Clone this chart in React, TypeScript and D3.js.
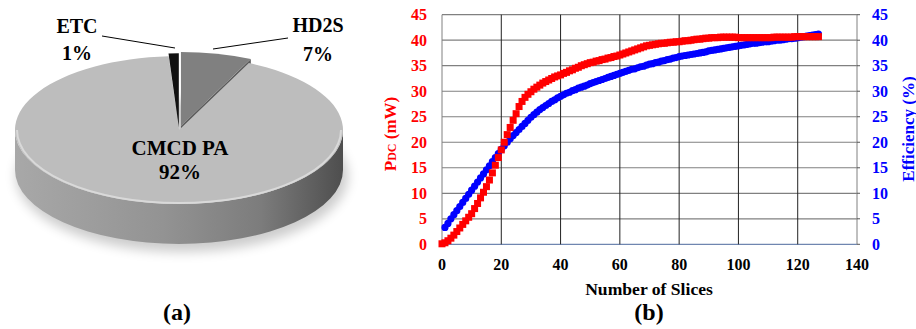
import React, { useEffect, useRef } from 'react';
import * as d3 from 'd3';

// pie (a): power breakdown
const pieLabels = ['HD2S', 'CMCD PA', 'ETC'];
const pieShares = [7, 92, 1];

// chart (b)
const xTicks = [0, 20, 40, 60, 80, 100, 120, 140];
const yTicks = [0, 5, 10, 15, 20, 25, 30, 35, 40, 45];

const pdcSlices = d3.range(0, 128);
const pdcValues = [
  0.1, 0.3, 0.7, 1.2, 1.8, 2.5, 3.2, 3.9, 4.6, 5.3,
  6.0, 7.0, 8.0, 9.1, 10.2, 11.3, 12.6, 14.0, 15.5, 17.0,
  18.5, 20.0, 21.5, 22.9, 24.3, 25.6, 27.0, 28.0, 28.8, 29.4,
  29.9, 30.4, 30.8, 31.2, 31.6, 31.9, 32.2, 32.5, 32.8, 33.0,
  33.2, 33.5, 33.7, 34.0, 34.2, 34.5, 34.7, 35.0, 35.2, 35.4,
  35.6, 35.7, 35.9, 36.0, 36.2, 36.3, 36.5, 36.6, 36.8, 36.9,
  37.1, 37.3, 37.5, 37.7, 37.9, 38.1, 38.3, 38.5, 38.7, 38.9,
  39.0, 39.1, 39.2, 39.3, 39.4, 39.4, 39.5, 39.6, 39.6, 39.7,
  39.7, 39.8, 39.9, 39.9, 40.0, 40.1, 40.2, 40.2, 40.3, 40.4,
  40.4, 40.5, 40.5, 40.5, 40.6, 40.6, 40.6, 40.6, 40.6, 40.6,
  40.5, 40.5, 40.5, 40.5, 40.5, 40.5, 40.5, 40.5, 40.5, 40.5,
  40.5, 40.5, 40.6, 40.6, 40.6, 40.6, 40.6, 40.6, 40.6, 40.7,
  40.7, 40.7, 40.7, 40.7, 40.7, 40.7, 40.7, 40.7,
];

const effSlices = d3.range(1, 128);
const effValues = [
  3.3, 4.1, 5.0, 5.8, 6.6, 7.4, 8.2, 9.0, 9.8,
  10.6, 11.4, 12.2, 13.0, 13.8, 14.6, 15.4, 16.2, 17.0, 17.8,
  18.6, 19.3, 20.0, 20.7, 21.3, 21.9, 22.5, 23.1, 23.7, 24.3,
  24.9, 25.4, 25.9, 26.4, 26.8, 27.2, 27.6, 28.0, 28.3, 28.7,
  29.0, 29.3, 29.6, 29.8, 30.1, 30.3, 30.6, 30.8, 31.0, 31.2,
  31.5, 31.7, 31.9, 32.1, 32.3, 32.5, 32.7, 32.9, 33.1, 33.3,
  33.5, 33.7, 33.9, 34.1, 34.3, 34.4, 34.6, 34.8, 34.9, 35.1,
  35.3, 35.4, 35.6, 35.7, 35.9, 36.0, 36.2, 36.3, 36.5, 36.6,
  36.8, 36.9, 37.0, 37.1, 37.2, 37.3, 37.4, 37.5, 37.6, 37.7,
  37.9, 38.0, 38.1, 38.2, 38.3, 38.4, 38.5, 38.6, 38.7, 38.8,
  38.9, 39.0, 39.1, 39.2, 39.3, 39.4, 39.4, 39.5, 39.6, 39.7,
  39.7, 39.8, 39.9, 40.0, 40.0, 40.1, 40.2, 40.3, 40.3, 40.4,
  40.5, 40.6, 40.7, 40.8, 40.9, 41.0, 41.1, 41.2,
];

const FONT = "'Liberation Serif', 'DejaVu Serif', serif";

export default function App() {
  const svgRef = useRef<SVGSVGElement>(null);

  useEffect(() => {
    const W = 916;
    const H = 329;
    const svg = d3
      .select(svgRef.current)
      .attr('width', W)
      .attr('height', H)
      .style('position', 'absolute')
      .style('left', 0)
      .style('top', 0)
      .style('background', '#fff');
    svg.selectAll('*').remove();

    const defs = svg.append('defs');
    const sideGrad = defs
      .append('linearGradient')
      .attr('id', 'pieSide')
      .attr('x1', 0)
      .attr('x2', 1)
      .attr('y1', 0)
      .attr('y2', 0);
    [
      [0, '#a8a8a8'],
      [0.45, '#939393'],
      [0.75, '#7c7c7c'],
      [1, '#4e4e4e'],
    ].forEach(([o, c]) => sideGrad.append('stop').attr('offset', o).attr('stop-color', c));
    defs
      .append('filter')
      .attr('id', 'blur')
      .attr('x', '-20%')
      .attr('y', '-40%')
      .attr('width', '140%')
      .attr('height', '180%')
      .append('feGaussianBlur')
      .attr('stdDeviation', 6);

    // ---------- (a) 3D pie ----------
    const cx = 179;
    const cy = 130;
    const rx = 164;
    const ry = 74;
    const depth = 40;
    const k = ry / rx;
    const d = depth / k;

    const pie = d3.pie<number>().sort(null).value((v) => v);
    const arcs = pie(pieShares);
    const arc = d3.arc<d3.PieArcDatum<number>>().innerRadius(0).outerRadius(rx);
    const explode = [9, 0, 6];
    const topColors = ['#808080', '#bdbdbd', '#111'];
    const offset = (a: d3.PieArcDatum<number>, e: number) => {
      const m = (a.startAngle + a.endAngle) / 2;
      return [Math.sin(m) * e, -Math.cos(m) * e];
    };

    // shadow
    svg
      .append('ellipse')
      .attr('cx', cx + 3)
      .attr('cy', cy + depth + 6)
      .attr('rx', rx + 2)
      .attr('ry', ry + 2)
      .attr('fill', '#000')
      .attr('opacity', 0.2)
      .attr('filter', 'url(#blur)');

    const g = svg.append('g').attr('transform', `translate(${cx},${cy}) scale(1,${k})`);

    // front side band
    g.append('path')
      .attr('d', `M${rx},0 A${rx},${rx} 0 0 1 ${-rx},0 L${-rx},${d} A${rx},${rx} 0 0 0 ${rx},${d} Z`)
      .attr('fill', 'url(#pieSide)');

    // cut face of the raised HD2S slice
    const hd = arcs[0];
    const [hx, hy] = offset(hd, explode[0]);
    const ex = hx + Math.sin(hd.endAngle) * rx;
    const ey = hy - Math.cos(hd.endAngle) * rx;
    g.append('path')
      .attr('d', `M${hx},${hy} L${ex},${ey} L${ex},${ey + d} L${hx},${hy + d} Z`)
      .attr('fill', '#5a5a5a');

    // top faces
    g.selectAll('path.slice')
      .data([arcs[1], arcs[0], arcs[2]])
      .join('path')
      .attr('class', 'slice')
      .attr('d', arc)
      .attr('transform', (a) => {
        const [ox, oy] = offset(a, explode[a.index]);
        return `translate(${ox},${oy})`;
      })
      .attr('fill', (a) => topColors[a.index]);

    // rim highlight
    g.append('path')
      .attr('d', `M${rx - 2},0 A${rx - 2},${rx - 2} 0 0 1 ${-rx + 2},0`)
      .attr('fill', 'none')
      .attr('stroke', '#d9d9d9')
      .attr('stroke-width', 2)
      .attr('vector-effect', 'non-scaling-stroke');

    const pieText = svg
      .append('g')
      .attr('font-family', FONT)
      .attr('font-weight', 'bold')
      .attr('font-size', 20)
      .attr('text-anchor', 'middle')
      .attr('fill', '#000');
    pieText.append('text').attr('x', 77).attr('y', 33).text(pieLabels[2]);
    pieText.append('text').attr('x', 77).attr('y', 60).text(`${pieShares[2]}%`);
    pieText.append('text').attr('x', 318).attr('y', 32).text(pieLabels[0]);
    pieText.append('text').attr('x', 318).attr('y', 61).text(`${pieShares[0]}%`);
    pieText.append('text').attr('x', 180).attr('y', 155).attr('font-size', 21).text(pieLabels[1]);
    pieText.append('text').attr('x', 180).attr('y', 179).attr('font-size', 21).text(`${pieShares[1]}%`);
    pieText.append('text').attr('x', 177).attr('y', 320).attr('font-size', 24).text('(a)');

    svg.append('line').attr('x1', 102).attr('y1', 36).attr('x2', 175).attr('y2', 48).attr('stroke', '#000');
    svg.append('line').attr('x1', 213).attr('y1', 49).attr('x2', 288).attr('y2', 38).attr('stroke', '#000');

    // ---------- (b) line chart ----------
    const x = d3.scaleLinear().domain([0, 140]).range([442, 857]);
    const y = d3.scaleLinear().domain([0, 45]).range([244.3, 14.7]);

    const grid = svg.append('g');
    grid
      .selectAll('line.h')
      .data(yTicks)
      .join('line')
      .attr('x1', x(0))
      .attr('x2', x(140))
      .attr('y1', (t) => y(t))
      .attr('y2', (t) => y(t))
      .attr('stroke', (t) => (t === 0 ? '#6f86b0' : '#808080'))
      .attr('stroke-width', 1.2);
    grid
      .selectAll('line.v')
      .data(xTicks)
      .join('line')
      .attr('y1', y(0))
      .attr('y2', y(45))
      .attr('x1', (t) => x(t))
      .attr('x2', (t) => x(t))
      .attr('stroke', (t) => (t === 0 || t === 140 ? '#808080' : '#222'))
      .attr('stroke-width', 1);
    grid
      .selectAll('line.rt')
      .data(yTicks)
      .join('line')
      .attr('x1', x(140))
      .attr('x2', x(140) + 3)
      .attr('y1', (t) => y(t))
      .attr('y2', (t) => y(t))
      .attr('stroke', '#555');

    const lab = svg
      .append('g')
      .attr('font-family', FONT)
      .attr('font-weight', 'bold')
      .attr('font-size', 16);
    lab
      .selectAll('text.yl')
      .data(yTicks)
      .join('text')
      .attr('x', 427)
      .attr('y', (t) => y(t) + 5.5)
      .attr('text-anchor', 'end')
      .attr('fill', '#ff0000')
      .text((t) => t);
    lab
      .selectAll('text.yr')
      .data(yTicks)
      .join('text')
      .attr('x', 872)
      .attr('y', (t) => y(t) + 5.5)
      .attr('fill', '#0000ff')
      .text((t) => t);
    lab
      .selectAll('text.xl')
      .data(xTicks)
      .join('text')
      .attr('x', (t) => x(t))
      .attr('y', 270)
      .attr('text-anchor', 'middle')
      .attr('fill', '#000')
      .text((t) => t);
    lab
      .append('text')
      .attr('x', 649)
      .attr('y', 295)
      .attr('text-anchor', 'middle')
      .attr('font-size', 17.6)
      .text('Number of Slices');
    lab
      .append('text')
      .attr('x', 649)
      .attr('y', 320)
      .attr('text-anchor', 'middle')
      .attr('font-size', 24)
      .text('(b)');

    const pdcLabel = lab
      .append('text')
      .attr('transform', 'translate(395.5,134) rotate(-90)')
      .attr('text-anchor', 'middle')
      .attr('fill', '#ff0000')
      .attr('font-size', 17);
    pdcLabel.append('tspan').text('P');
    pdcLabel.append('tspan').attr('font-size', 12).text('DC');
    pdcLabel.append('tspan').text(' (mW)');

    lab
      .append('text')
      .attr('transform', 'translate(913.5,129) rotate(-90)')
      .attr('text-anchor', 'middle')
      .attr('fill', '#0000ff')
      .attr('font-size', 17)
      .text('Efficiency (%)');

    // efficiency: blue circles
    svg
      .append('g')
      .selectAll('circle')
      .data(effValues)
      .join('circle')
      .attr('cx', (v, i) => x(effSlices[i]))
      .attr('cy', (v) => y(v))
      .attr('r', 3.6)
      .attr('fill', '#0000ff');

    // PDC: red squares
    svg
      .append('g')
      .selectAll('rect')
      .data(pdcValues)
      .join('rect')
      .attr('x', (v, i) => x(pdcSlices[i]) - 3.5)
      .attr('y', (v) => y(v) - 3.5)
      .attr('width', 7)
      .attr('height', 7)
      .attr('fill', '#ff0000');
  }, []);

  return <svg ref={svgRef}></svg>;
}
